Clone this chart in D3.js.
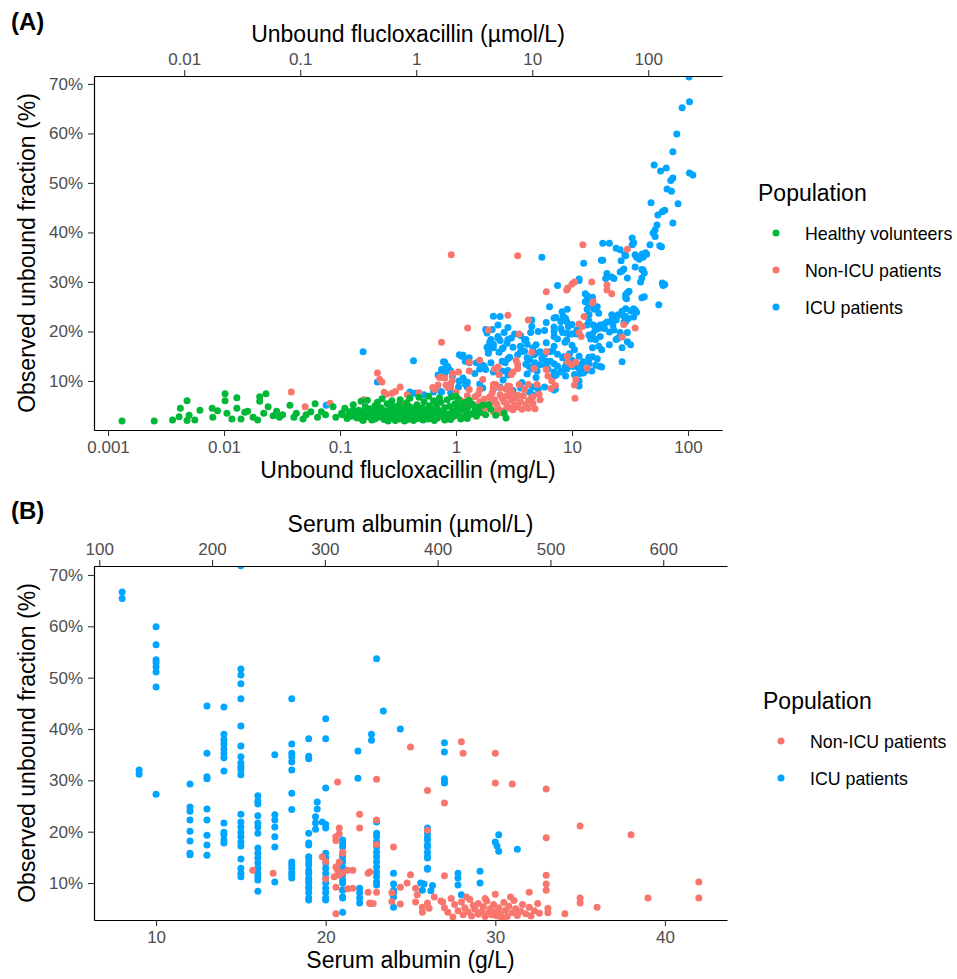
<!DOCTYPE html>
<html>
<head>
<meta charset="utf-8">
<script src="https://cdn.jsdelivr.net/npm/d3@7"></script>
<style>
body { margin: 0; background: #fff; }
text { font-family: "Liberation Sans", Arial, sans-serif; }
</style>
</head>
<body>
<script>
// ---- panel A: unbound flucloxacillin (mg/L) vs unbound fraction (%) ----
var healthyA = [
  [0.00132,1.9],[0.0025,1.9],[0.0036,2.1],[0.0042,4.5],[0.0041,2.8],[0.0048,6.0],[0.0048,2.0],[0.005,3.1],
  [0.0056,2.1],[0.0062,4.1],[0.0079,4.5],[0.008,2.7],[0.0088,4.0],[0.0102,7.4],[0.0102,6.0],[0.0106,3.5],
  [0.0117,2.3],[0.0129,6.6],[0.0129,4.5],[0.014,2.3],[0.0151,3.7],[0.016,3.9],[0.0178,2.7],[0.0195,2.1],
  [0.0203,6.8],[0.0203,5.9],[0.023,7.4],[0.022,3.5],[0.024,4.8],[0.0265,3.0],[0.0284,3.9],[0.030,2.7],
  [0.032,3.2],[0.037,5.1],[0.040,2.7],[0.042,3.5],[0.048,2.3],[0.051,3.2],[0.056,3.8],[0.061,5.4],
  [0.064,2.7],[0.069,3.8],[0.075,3.2],[0.087,4.8],[0.092,2.7],[0.103,3.5],[0.117,3.0],[0.13,4.1],[0.14,2.5],
  [0.105,3.2],[0.11,4.5],[0.115,2.4],[0.12,3.8],[0.125,2.9],[0.13,5.2],[0.135,3.5],[0.14,2.6],[0.145,4.1],
  [0.15,3.0],[0.155,2.2],[0.16,3.7],[0.165,4.8],[0.17,2.8],[0.175,3.3],[0.18,4.4],[0.185,2.5],[0.19,3.9],
  [0.195,3.0],[0.2,5.0],[0.2,2.3],[0.205,4.2],[0.21,3.4],[0.215,2.7],[0.22,3.8],[0.225,4.6],[0.23,2.9],
  [0.235,3.5],[0.24,2.2],[0.245,4.0],[0.25,3.1],[0.255,5.4],[0.26,2.6],[0.265,3.7],[0.27,4.3],[0.275,2.8],
  [0.28,3.3],[0.285,4.9],[0.29,2.4],[0.295,3.9],[0.3,3.0],[0.305,4.5],[0.31,2.7],[0.315,3.6],[0.32,5.1],
  [0.325,2.3],[0.33,4.1],[0.335,3.2],[0.34,2.8],[0.345,3.8],[0.35,4.7],[0.355,2.5],[0.36,3.4],[0.365,4.2],
  [0.37,2.9],[0.375,5.6],[0.38,3.6],[0.385,2.2],[0.39,4.0],[0.395,3.1],[0.4,4.8],[0.41,2.6],[0.42,3.7],
  [0.43,4.4],[0.44,2.9],[0.45,3.3],[0.46,5.2],[0.47,2.4],[0.48,4.1],[0.49,3.5],[0.5,2.8],[0.51,4.6],
  [0.52,3.2],[0.53,5.8],[0.54,2.5],[0.55,3.9],[0.56,4.3],[0.57,3.0],[0.58,2.3],[0.59,5.0],[0.6,3.6],
  [0.61,4.4],[0.62,2.7],[0.63,3.4],[0.64,6.0],[0.65,4.0],[0.66,2.9],[0.67,3.7],[0.68,5.3],[0.69,2.5],
  [0.7,4.2],[0.72,3.1],[0.74,5.7],[0.76,3.8],[0.78,2.7],[0.8,4.6],[0.82,3.3],[0.84,6.2],[0.86,2.4],
  [0.88,4.9],[0.9,3.5],[0.92,6.8],[0.94,4.0],[0.96,2.9],[0.98,5.4],[1.0,3.6],[1.02,4.5],[1.05,6.3],
  [1.08,3.0],[1.1,5.0],[1.13,4.2],[1.16,2.7],[1.2,5.7],[1.23,3.8],[1.26,4.6],[1.3,6.1],[1.35,3.3],
  [1.4,5.2],[1.45,4.0],[1.5,2.9],[1.55,4.7],[1.6,3.7],[1.7,5.1],[1.8,3.2],[1.9,5.2],[2.0,4.3],[2.2,3.1],
  [2.6,3.5],[2.7,2.5],[0.152,5.9],[0.158,2.0],[0.172,6.1],[0.188,2.1],[0.21,5.7],[0.23,6.4],[0.26,1.9],
  [0.28,6.0],[0.3,2.0],[0.33,6.2],[0.36,1.9],[0.4,6.5],[0.43,2.0],[0.48,6.7],[0.52,2.1],[0.58,6.9],
  [0.65,2.0],[0.72,6.6],[0.8,2.1],[0.9,2.2],[1.0,6.9],[1.1,2.3],[1.25,2.4]
]

var nonIcuA = [
  [0.038,7.8],[0.05,4.8],[0.082,5.5],[0.16,6.2],[0.21,11.6],[0.23,9.8],[0.22,10.3],[0.25,7.3],[0.24,7.7],
  [0.28,7.5],[0.3,7.9],[0.33,8.8],[0.36,5.5],[0.38,7.2],[0.48,7.6],[0.63,8.7],[0.66,8.3],[0.7,9.2],
  [0.72,10.7],[0.74,10.8],[0.75,17.8],[0.8,10.6],[0.82,9.2],[0.85,8.7],[0.9,9.5],[0.91,35.5],[0.93,11.5],
  [0.93,10.1],[0.9,8.8],[1.0,7.7],[1.05,11.8],[1.26,20.7],[1.3,12.0],[1.3,13.8],[1.3,8.3],[1.6,14.2],
  [1.6,8.3],[1.7,10.3],[1.9,20.3],[2.1,9.3],[2.1,8.6],[2.15,12.4],[2.2,9.3],[2.35,11.3],[2.3,12.8],
  [2.4,8.6],[2.7,8.4],[2.8,9.0],[2.8,23.3],[2.9,8.9],[2.8,7.1],[3.0,11.3],[3.0,8.0],[3.1,11.8],[3.1,7.0],
  [3.3,14.2],[3.4,12.5],[3.4,13.4],[3.4,7.1],[3.4,35.3],[3.5,19.5],[3.5,9.3],[3.9,8.3],[4.2,22.3],
  [4.2,9.3],[4.2,6.0],[4.5,15.8],[4.6,6.8],[4.7,12.5],[5.0,9.3],[5.2,7.3],[6.0,28.0],[6.2,11.0],[6.7,10.0],
  [6.0,15.9],[6.0,12.3],[6.6,8.5],[7.2,9.1],[9.0,28.4],[9.1,15.0],[9.2,28.8],[9.2,13.8],[9.9,13.3],
  [10.0,29.6],[10.5,30.0],[10.5,9.2],[10.8,13.8],[10.8,10.3],[10.6,6.5],[11.5,21.5],[11.5,19.8],[12.0,19.0],
  [12.3,21.0],[12.4,37.5],[12.7,23.0],[13.5,12.6],[14.8,30.0],[15.0,25.8],[15.2,26.0],[20.0,29.4],
  [20.0,28.4],[22.0,27.6],[27.0,18.9],[28.0,21.4],[30.0,36.6],[35.0,20.7],
  [1.46,6.8],[1.6,5.8],[1.8,5.2],[1.95,6.8],[2.15,6.2],[2.4,7.2],[2.6,5.8],[2.9,4.5],[2.3,4.5],[1.7,4.1],
  [1.5,4.5],[3.4,4.8],[4.2,4.5],[4.6,5.5],[5.3,6.2],[3.2,5.2],[1.55,7.3],[1.75,6.3],[1.85,4.6],[2.0,5.6],
  [2.05,7.6],[2.25,5.3],[2.5,6.5],[2.55,4.0],[2.7,6.9],[2.75,5.1],[3.0,6.1],[3.1,4.2],[3.3,6.6],[3.6,5.8],
  [3.7,4.3],[3.8,7.0],[4.0,5.2],[4.4,6.4],[4.8,4.4],[1.35,5.5],[1.25,7.0],[1.2,4.8],[1.1,6.0],[1.65,3.6],
  [2.1,3.8],[2.45,3.6]
]

var icuA = [
  [102,71.4],[103,66.4],[89,65.2],[80,59.9],[74,56.3],[51,53.6],[58,52.4],[65,53],[74,51],[71,50.5],
  [103,52],[110,51.6],[66,48.8],[72,48.3],[48,46],[82,45.8],[55,43.5],[60,44.2],[63,44.5],[74,41.9],
  [50,39.9],[52,40.5],[52,39.2],[47,37.5],[57,37.3],[59,37.1],[33,38.9],[34,37.9],[18.4,37.8],[21,37.8],
  [24,36.8],[26,36.5],[28.5,35.5],[35,35.5],[40,35.6],[43,35.9],[5.5,35],[54,41.5],[33,37.5],[44,35.6],
  [36,35],[38,34.6],[29,35.3],[26.5,34.3],[18.4,34.4],[35,33],[40,32.5],[42,31.8],[27,32.2],[28,32.6],
  [20,31.7],[22,31],[19.5,30.7],[23,30.7],[12.6,33.8],[39,30],[60,29.8],[61,29.3],[11.5,30.3],[7.5,29.3],
  [29,27.4],[31,28.1],[29.5,26.6],[40,26.8],[56,25.4],[13.5,27.2],[15,26.9],[13.5,26.4],[14,25.4],[6.4,25],
  [16.5,25],[15.5,24.5],[29,24.6],[32,24.2],[34,24.6],[35,24.3],[25,23.4],[22,23.4],[28,23],[24,22.6],
  [29,23],[30.5,22.6],[28,21.8],[14,23.4],[9.1,24.5],[8.2,24],[7.3,22.8],[6.0,21.8],[8.8,22.6],[9.3,21],
  [10,21.4],[11,20.3],[13.5,21.3],[15.3,21.3],[16.5,20.8],[17.5,21.3],[19,21.5],[19,20.6],[21,19.9],
  [23,20.3],[26,19.8],[30,19.8],[25,18.7],[27,13.9],[17.5,19],[16,18.4],[15,19.5],[14,19.3],[11,19.5],
  [9.5,19.5],[8.3,19.8],[7,20],[5.8,15.4],[6.8,16],[8.3,14.7],[10,14.2],[11.5,15],[12.5,13.9],[14,14.8],
  [16.5,14.5],[17.3,13],[16,13.2],[10.5,13],[11.4,12.6],[12.3,12],[13,12],[8.2,12],[7.5,13],[6.5,14],
  [6,13],[7,11],[8.8,11],[10.5,11.3],[11.7,11.5],[14.8,12],[7,8.2],[11.5,10],
  [41,35],[17.9,34.4],[41,32.4],[40,30.8],[30,30.8],[26,32],[11.5,30.6],[30,27.8],[29,26.8],[42,27],
  [63,29.5],[13,27.6],[13,26],[13.5,24.5],[17,23.7],[27,24.1],[34,22.9],[36,23.9],[20,21.9],[22,22.3],
  [24,22.3],[22.5,21.3],[29,22],[14,22.1],[8.4,23.1],[8,22],[9,22],[7,22.7],[15.8,20.3],[17,20.6],
  [30,17.9],[32,17.3],[21,17.3],[24,18.4],[27,16.7],[18,12.8],[14,13.5],[14,14.5],[12,13.3],[12.5,11.6],
  [11.5,9],[15,16.7],[17,17],[18,16.3],[14.5,18.5],[15,14.9],[9,18.3],[8.7,17.8],[10,19.5],[7,20.9],
  [8,20.6],[9,19.7],[7,19],[7.5,18.5],[6,17.7],[5.8,20.2],[10,17.2],[10.5,16.3],[9.5,15.5],[8.5,14.9],
  [9,13.6],[10,13],[8.7,12.8],[7.5,15.4],[6.4,15.9],[7,17],[5.3,15.9],[4.7,15.3],[5.5,14.6],[6,14],
  [5.3,13.3],[6.2,12.4],[7,11.8],[7.3,11.2],[8,11.8],[9,12.4],[7,13.5],[5.8,8.8],[7.2,8.4],[5,12],
  [4.3,12.9],[4.1,14.7],[4.9,15.6],[3.6,15.9],[4.1,17.4],[3.9,18.3],[3.6,19.2],[3.2,19.5],[2.8,18.4],
  [2.6,19.8],[2.8,20.8],[2.3,21.3],[2.4,23],[2.1,23.1],[4.5,22.3],[4.5,21],[1.8,20.4],[2.3,18.7],
  [2.1,17.4],[1.85,16.8],[2.5,16.5],[1.9,15.9],[1.15,15.2],[1.3,14.7],[1.5,13.7],[1.7,13.2],[1.8,12.3],
  [2.1,11.8],[2.5,14],[2.8,14.5],[2.5,12],[2.8,11.2],[0.93,11],[0.87,12.3],[0.8,11.5],[0.43,14.1],
  [1.05,8.8],[1.25,8.8],[1.2,9.4],[1.6,9.4],[1.7,8.6],[3.6,8.6],[4.3,7.8],
  [0.8,13.8],[0.85,12.9],[0.9,12],[0.75,12.3],[0.75,7.8],[0.46,7.5],[0.4,7.8],[1.07,15.3],[1.2,14],
  [1.3,13.7],[1.15,10.6],[1.25,9.8],[1.45,11.5],[1.6,12.4],[1.75,13],[2.0,13.7],[1.9,15.6],[1.95,17.8],
  [1.85,19.7],[2.0,18.4],[2.1,16.7],[2.05,20.4],[2.3,19],[2.4,18.2],[2.35,15.8],[2.55,16.7],[2.75,17.6],
  [2.65,13.7],[2.8,12.1],[2.55,10.2],[2.4,8.8],[2.9,14.8],[3.1,16.8],[3.0,18.7],[3.4,15.3],[3.6,17],
  [3.9,16],[4.0,18.4],[4.4,19.8],[4.6,16.7],[4.9,17.3],[5.1,20],[4.3,14.3],[4.0,13.4],[4.1,11.4],
  [4.5,12.4],[4.8,13.7],[4.9,10.7],[3.7,9.7],[4.6,8.8],[5.1,8.4],[4.6,7.2],[0.9,7.6],[3.1,8.1],[2.1,8.4],
  [0.158,15.9],[0.21,9.8],[1.12,15.0],[0.78,13.9],[0.7,11.2],[0.83,13.0],[1.06,10.0],[0.44,7.5],
  [0.53,7.2],[0.64,7.8],[0.74,7.9],[0.076,5.1]
]

// ---- panel B: serum albumin (g/L) vs unbound fraction (%) ----
var nonIcuB = [
  [15.7,12.5],[16.9,11.9],[19.8,15.1],[20,14.2],[20,10.8],[20.7,29.7],[20.8,19.6],[20.6,18.3],[21,15.8],
  [20.7,12.5],[21,12],[20.8,11.5],[20.6,9.2],[20.6,4.0],[20.8,20.7],[20.6,19],[21,16],[20.8,14.1],
  [20.6,13.1],[20.8,12.1],[20.5,11.2],[22,23.4],[22,20.7],[21.3,12.5],[21.3,8.9],[21.6,12.5],[21.6,9.0],
  [22.5,11.9],[22.5,8.2],[22.6,6.1],[22.6,12.2],[23,8.2],[22.6,6.0],[22.8,6.0],[23,30.2],[23,22.3],
  [23,17.5],[25,36.5],[24,17],[23.9,8.1],[23.9,6.4],[24.4,5.9],[24.4,9.2],[24.8,10],[25,11.6],[25.3,9],
  [25.4,7.7],[25.3,6.3],[25.7,5.3],[25.7,4.3],[26,6.1],[26.1,5.1],[26.4,7.3],[26,28],[26,20.3],[27,25.6],
  [27,11.4],[28,37.5],[28.1,35.3],[30,35.3],[30,29.5],[31,29.3],[33,28.3],[35,21.1],[38,19.4],[33,18.8],
  [33,11.5],[33,9.8],[33,8.6],[42,10.2],[42,7.1],[39,7.1],[35,7.1],[35,6.1],[36,5.3],[34.1,4],[33.1,5.1],
  [33.1,4.2],[32,8.2],[26.9,6.3],
  [26.8,6.5],[27,5.2],[27.2,4.3],[27.4,7.0],[27.6,5.8],[27.8,4.6],[28,6.3],[28.1,3.8],[28.2,5.2],[28.4,4.4],
  [28.5,6.8],[28.6,3.6],[28.7,5.6],[28.8,4.9],[29,3.9],[29,6.0],[29.2,4.5],[29.3,5.4],[29.4,3.5],[29.5,6.5],
  [29.6,4.2],[29.7,5.0],[29.8,3.8],[29.9,5.8],[30,4.4],[30,7.8],[30.1,3.6],[30.2,5.2],[30.3,4.0],[30.5,6.2],
  [30.6,4.7],[30.7,3.5],[30.8,5.5],[30.9,7.3],[31,4.2],[31.2,5.0],[31.3,3.7],[31.5,4.5],[31.6,5.8],[31.8,4.0],
  [32,5.3],[32.1,3.6],[32.3,4.6],[32.5,6.0],[32.6,4.1],[28.3,7.3],[27.5,3.4],[29.4,7.0],[30.4,3.2],[31.1,6.6]
]

var icuB = [
  [8,66.7],[8,65.4],[9,32],[9,31.2],[10,59.9],[10,56.4],[10,53.5],[10,52.9],[10,52.1],[10,51.1],[10,48.2],
  [10,27.3],[12,29.3],[12,24.8],[12,24.0],[12,22.3],[12,20.1],[12,18.2],[12,15.8],[12,15.5],
  [13,44.5],[13,35.3],[13,30.7],[13,30.3],[13,24.4],[13,22.3],[13,19.3],[13,17.4],[13,15.4],
  [14,44.3],[14,39],[14,37.9],[14,37.1],[14,36.1],[14,35.3],[14,34.4],[14,31.8],[14,21.7],[14,19.9],
  [14,19.4],[14,18.4],[14,17.8],
  [15,71.8],[15,51.7],[15,50.5],[15,48.8],[15,45.9],[15,40.6],[15,36.7],[15,34.6],[15,33.4],[15,32.6],
  [15,32],[15,31.1],[15,23.4],[15,21.9],[15,20.9],[15,19.9],[15,19],[15,18],[15,17.2],[15,14.7],[15,12.9],
  [15,11.9],[15,11.2],
  [16,27],[16,26],[16,25.4],[16,23.1],[16,21.7],[16,20.9],[16,19.7],[16,16.8],[16,15.8],[16,14.9],[16,13.9],
  [16,12.9],[16,11.9],[16,11.2],[16,10.6],[16,8.4],
  [17,35],[17,23.3],[17,22.3],[17,20.9],[17,19],[17,17],[17,10.2],
  [18,45.9],[18,37.1],[18,35.3],[18,34.6],[18,33.6],[18,32],[18,27.5],[18,24.3],[18,14.1],[18,13.5],
  [18,12.9],[18,12.1],[18,11.6],[18,11],
  [19,38.1],[19,34.7],[19,34.2],[19,19.7],[19,17.8],[19,17.4],[19,14.9],[19,13.5],[19,11.9],[19,11],[19,10],
  [19,9],[19,8.1],[19,7.1],[19,15.1],[19,14.1],[19,12.5],[19,10.6],[19,9.2],[19,6.7],
  [19.4,22.9],[19.4,21.7],[19.5,24.4],[19.5,25.8],[19.4,20.5],[19.8,21.9],[20,20.7],
  [20,42],[20,38.1],[20,28.5],[20,21.4],[20,15.8],[20,14.9],[20,13.9],[20,12.9],[20,11.9],[20,11],[20,10],
  [20,9],[20,8.1],[20,7.1],[20,6.7],
  [21,18.4],[21,17.7],[21,17],[21,15.8],[21,15.1],[21,14.2],[21,13.1],[21,11.9],[21,11.6],[21,10.6],[21,10],
  [21,8.7],[21,8.6],[21,7.3],[21,7.1],[21,4.3],
  [21.9,35.7],[21.9,30.4],[22,9],[22,8.1],[22,7.1],[22,6.1],[22.7,39],[22.7,37.8],
  [23,53.7],[23,21.9],[23,19.7],[23,19],[23,18],[23,17],[23,16],[23,15.1],[23,14.1],[23,13.1],[23,12.1],
  [23,11.2],[23,10.2],[23,9.6],[23.4,43.5],[24.4,40],
  [24,11.9],[24,9.8],[24,8.6],[24,8.2],[24,7.3],[24,5.3],[25.6,10],[25.7,8.6],
  [26,20.7],[26,19.7],[26,18.8],[26,18.4],[26,17.4],[26,17],[26,16],[26,15.1],[26,14.9],[26,12.7],[26,12.9],
  [25.8,9.8],[26.3,9.5],[26.2,8.5],
  [27,37.3],[27,35.5],[27,30.3],[27,29.7],[27,29.5],
  [27.8,11.9],[27.8,11],[27.8,9.6],[28,7.7],[29.1,12.3],[29.1,10],
  [30.2,19.4],[30,18],[30.1,17.2],[30.2,16.2],[31.3,16.6]
]

// axis ticks
var ticksA = [0.001, 0.01, 0.1, 1, 10, 100]
var tickLabelsA = ['0.001', '0.01', '0.1', '1', '10', '100']
var ticksATop = [0.01, 0.1, 1, 10, 100]
var tickLabelsATop = ['0.01', '0.1', '1', '10', '100']
var ticksB = [10, 20, 30, 40]
var ticksBTop = [100, 200, 300, 400, 500, 600]
var ticksY = [10, 20, 30, 40, 50, 60, 70]

// unit conversions for the secondary axes
var flucloxMw = 453.9    // g/mol, mg/L -> umol/L
var albuminMw = 66.5     // kDa, g/L -> umol/L

var colours = {
  'Healthy volunteers': '#00B838',
  'Non-ICU patients': '#F8766D',
  'ICU patients': '#00A5FF'
}

var width = 957
var height = 979

var svg = d3.select('body')
    .append('svg')
    .attr('width', width)
    .attr('height', height)

function styleAxis(g) {
    g.select('.domain').attr('stroke', '#000').attr('stroke-width', 1.2)
    g.selectAll('.tick line').attr('stroke', '#333').attr('stroke-width', 1.1)
    g.selectAll('.tick text')
        .attr('fill', '#4d4d4d')
        .style('font-size', '17px')
        .style('font-family', '"Liberation Sans", Arial, sans-serif')
}

function drawPanel(p) {
    var x = p.xScale.range([p.left, p.right])
    var xTop = p.xTopScale.range([p.left, p.right])
    var y = d3.scaleLinear().domain(p.yDomain).range([p.bottom, p.top])

    var g = svg.append('g')

    // panel letter
    g.append('text')
        .text(p.letter)
        .attr('x', 11)
        .attr('y', p.letterY)
        .style('font-size', '24px')
        .style('font-weight', 'bold')

    g.append('clipPath')
        .attr('id', 'clip' + p.id)
        .append('rect')
        .attr('x', p.left)
        .attr('y', p.top)
        .attr('width', p.right - p.left)
        .attr('height', p.bottom - p.top)

    var dots = g.append('g').attr('clip-path', 'url(#clip' + p.id + ')')

    p.series.forEach(function(s) {
        dots.append('g')
            .selectAll('circle')
            .data(s.data)
            .enter()
            .append('circle')
            .attr('cx', d => x(d[0]))
            .attr('cy', d => y(d[1]))
            .attr('r', 3.5)
            .style('fill', colours[s.name])
    })

    // bottom axis
    g.append('g')
        .attr('transform', 'translate(0,' + p.bottom + ')')
        .call(d3.axisBottom(x).tickValues(p.xTicks).tickFormat((d, i) => p.xLabels[i])
            .tickSize(6).tickPadding(5).tickSizeOuter(0))
        .call(styleAxis)

    // top (secondary) axis
    g.append('g')
        .attr('transform', 'translate(0,' + p.top + ')')
        .call(d3.axisTop(xTop).tickValues(p.xTopTicks).tickFormat((d, i) => p.xTopLabels[i])
            .tickSize(6).tickPadding(5).tickSizeOuter(0))
        .call(styleAxis)

    // left axis
    g.append('g')
        .attr('transform', 'translate(' + p.left + ',0)')
        .call(d3.axisLeft(y).tickValues(ticksY).tickFormat(d => d + '%')
            .tickSize(6).tickPadding(5).tickSizeOuter(0))
        .call(styleAxis)

    var mid = (p.left + p.right) / 2

    // axis titles
    g.append('text')
        .text(p.xTitle)
        .attr('x', mid)
        .attr('y', p.bottom + 48)
        .attr('text-anchor', 'middle')
        .style('font-size', '23px')

    g.append('text')
        .text(p.xTopTitle)
        .attr('x', mid)
        .attr('y', p.top - 34)
        .attr('text-anchor', 'middle')
        .style('font-size', '23px')

    g.append('text')
        .text('Observed unbound fraction (%)')
        .attr('transform', 'translate(35,' + ((p.top + p.bottom) / 2) + ') rotate(-90)')
        .attr('text-anchor', 'middle')
        .style('font-size', '23px')

    // legend
    var legend = g.append('g')
        .attr('transform', 'translate(' + p.legendX + ',' + p.legendY + ')')

    legend.append('text')
        .text('Population')
        .style('font-size', '23px')

    p.series.slice().sort((a, b) => a.order - b.order).forEach(function(s, i) {
        legend.append('circle')
            .attr('cx', 18)
            .attr('cy', 32 + i * 37)
            .attr('r', 3.5)
            .style('fill', colours[s.name])
        legend.append('text')
            .text(s.name)
            .attr('x', 47)
            .attr('y', 32 + i * 37 + 6.5)
            .style('font-size', '17.8px')
    })
}

drawPanel({
    id: 'A', letter: '(A)', letterY: 30,
    left: 94, right: 722, top: 76, bottom: 430,
    xScale: d3.scaleLog().domain([0.000757, 196.3]),
    xTopScale: d3.scaleLog().domain([0.000757 * 1000 / flucloxMw, 196.3 * 1000 / flucloxMw]),
    yDomain: [0.1, 71.6],
    xTicks: ticksA, xLabels: tickLabelsA,
    xTopTicks: ticksATop, xTopLabels: tickLabelsATop,
    xTitle: 'Unbound flucloxacillin (mg/L)',
    xTopTitle: 'Unbound flucloxacillin (\u00b5mol/L)',
    legendX: 758, legendY: 201,
    series: [
        {name: 'ICU patients', data: icuA, order: 3},
        {name: 'Non-ICU patients', data: nonIcuA, order: 2},
        {name: 'Healthy volunteers', data: healthyA, order: 1}
    ]
})

drawPanel({
    id: 'B', letter: '(B)', letterY: 519,
    left: 94, right: 727, top: 566, bottom: 920,
    xScale: d3.scaleLinear().domain([6.34, 43.66]),
    xTopScale: d3.scaleLinear().domain([6.34 * 1000 / albuminMw, 43.66 * 1000 / albuminMw]),
    yDomain: [2.8, 71.75],
    xTicks: ticksB, xLabels: ticksB.map(String),
    xTopTicks: ticksBTop, xTopLabels: ticksBTop.map(String),
    xTitle: 'Serum albumin (g/L)',
    xTopTitle: 'Serum albumin (\u00b5mol/L)',
    legendX: 763, legendY: 709,
    series: [
        {name: 'ICU patients', data: icuB, order: 2},
        {name: 'Non-ICU patients', data: nonIcuB, order: 1}
    ]
})
</script>
</body>
</html>
